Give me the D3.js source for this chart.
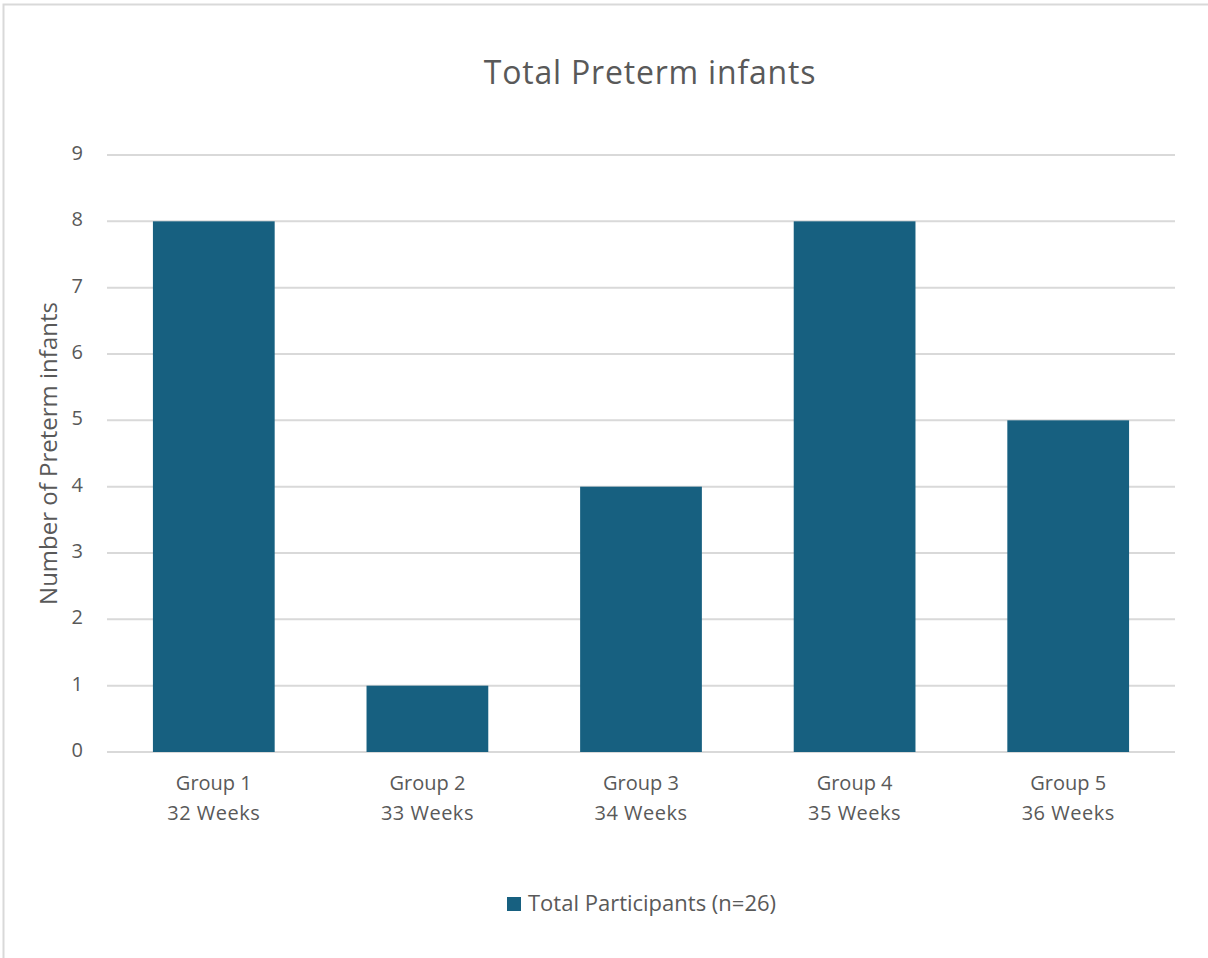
<!DOCTYPE html>
<html>
<head>
<meta charset="utf-8">
<script src="https://cdn.jsdelivr.net/npm/d3@7"></script>
<style>
  html, body { margin: 0; padding: 0; background: #fff; }
  svg { display: block; }
  text { font-family: "Open Sans", "Noto Sans", sans-serif; fill: #595959; }
</style>
</head>
<body>
<svg id="chart" width="1208" height="958"></svg>
<script>
// Data
const groups = ["Group 1", "Group 2", "Group 3", "Group 4", "Group 5"];
const weeks = ["32 Weeks", "33 Weeks", "34 Weeks", "35 Weeks", "36 Weeks"];
const infants = [8, 1, 4, 8, 5];
const yTicks = [0, 1, 2, 3, 4, 5, 6, 7, 8, 9];
const seriesName = "Total Participants (n=26)";
const chartTitle = "Total Preterm infants";
const yTitle = "Number of Preterm infants";

const barColor = "#176080";
const gridColor = "#d9d9d9";

const svg = d3.select("#chart");

// Outer chart frame
svg.append("rect")
  .attr("x", 3.5).attr("y", 4.5)
  .attr("width", 1400).attr("height", 1100)
  .attr("fill", "none").attr("stroke", gridColor).attr("stroke-width", 2);

const plot = { left: 107, right: 1175, top: 155, bottom: 752 };

const x = d3.scaleBand()
  .domain(groups)
  .range([plot.left, plot.right])
  .paddingInner(0.43)
  .paddingOuter(0.215);

const y = d3.scaleLinear()
  .domain([0, 9])
  .range([plot.bottom, plot.top]);

// Horizontal gridlines
svg.append("g")
  .selectAll("line")
  .data(yTicks)
  .join("line")
  .attr("x1", plot.left).attr("x2", plot.right)
  .attr("y1", d => y(d)).attr("y2", d => y(d))
  .attr("stroke", gridColor).attr("stroke-width", 2);

// Y axis tick labels
const yAxis = d3.axisLeft(y).tickValues(yTicks).tickSize(0).tickPadding(0);
const yG = svg.append("g")
  .attr("transform", `translate(${plot.left - 24},0)`)
  .call(yAxis);
yG.select(".domain").remove();
yG.selectAll("text")
  .attr("font-size", 20)
  .attr("dy", "0.22em")
  .attr("font-family", "'Open Sans', 'Noto Sans', sans-serif")
  .attr("fill", "#595959");

// Bars
svg.append("g")
  .selectAll("rect")
  .data(groups.map((g, i) => ({ g, v: infants[i] })))
  .join("rect")
  .attr("x", d => x(d.g))
  .attr("width", x.bandwidth())
  .attr("y", d => y(d.v))
  .attr("height", d => y(0) - y(d.v))
  .attr("fill", barColor);

// Category labels (two lines)
const xLab = svg.append("g")
  .selectAll("text")
  .data(groups.map((g, i) => ({ g, w: weeks[i] })))
  .join("text")
  .attr("text-anchor", "middle")
  .attr("font-size", 20);
xLab.append("tspan")
  .attr("x", d => x(d.g) + x.bandwidth() / 2)
  .attr("y", 790)
  .text(d => d.g);
xLab.append("tspan")
  .attr("x", d => x(d.g) + x.bandwidth() / 2)
  .attr("y", 820)
  .attr("letter-spacing", 0.5)
  .text(d => d.w);

// Title
svg.append("text")
  .attr("x", 650).attr("y", 84)
  .attr("text-anchor", "middle")
  .attr("font-size", 32)
  .attr("letter-spacing", 0.8)
  .text(chartTitle);

// Y axis title
svg.append("text")
  .attr("transform", `translate(57,${(plot.top + plot.bottom) / 2}) rotate(-90)`)
  .attr("text-anchor", "middle")
  .attr("font-size", 24)
  .text(yTitle);

// Legend
const legend = svg.append("g").attr("transform", "translate(507,897)");
legend.append("rect")
  .attr("width", 14).attr("height", 14)
  .attr("fill", barColor);
legend.append("text")
  .attr("x", 21).attr("y", 14)
  .attr("font-size", 22)
  .text(seriesName);
</script>
</body>
</html>
